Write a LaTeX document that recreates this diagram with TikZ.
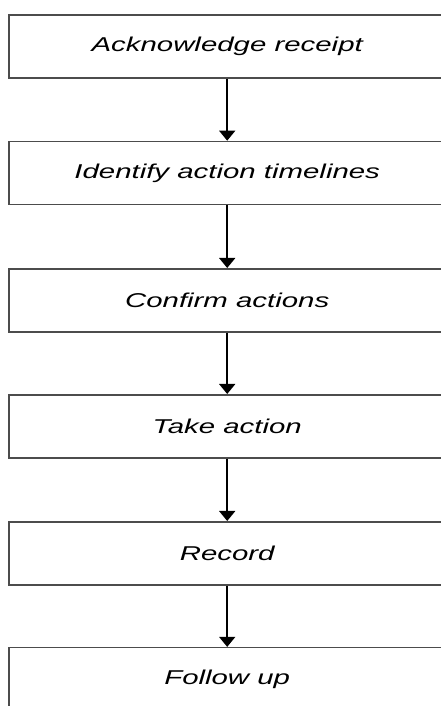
\documentclass[tikz,border=0pt]{standalone}
\usepackage{fontspec}
\newfontfamily\boxfont[FakeStretch=1.47]{Liberation Sans}
\usetikzlibrary{arrows.meta}
\tikzset{
  stepbox/.style={draw=black!70, line width=1.6pt, minimum width=437pt, minimum height=63pt,
    inner sep=0pt, font=\boxfont\fontsize{20}{24}\selectfont\itshape, text=black},
  flowarrow/.style={draw=black, line width=1.5pt, -{Triangle[width=16pt,length=10pt]}}
}
\begin{document}
\begin{tikzpicture}[x=1pt,y=1pt]
\useasboundingbox (0,0) rectangle (441,706);
\clip (0,0) rectangle (441,706);
\fill[white] (0,0) rectangle (441,706);
\node[stepbox] (n1) at (227.2,659.3) {Acknowledge receipt};
\node[stepbox] (n2) at (227.2,533.0) {Identify action timelines};
\node[stepbox] (n3) at (227.2,405.7) {Confirm actions};
\node[stepbox] (n4) at (227.2,279.7) {Take action};
\node[stepbox] (n5) at (227.2,152.7) {Record};
\node[stepbox] (n6) at (227.2,26.8) {Follow up};
\draw[flowarrow] (n1.south) -- (n2.north);
\draw[flowarrow] (n2.south) -- (n3.north);
\draw[flowarrow] (n3.south) -- (n4.north);
\draw[flowarrow] (n4.south) -- (n5.north);
\draw[flowarrow] (n5.south) -- (n6.north);
\end{tikzpicture}
\end{document}
